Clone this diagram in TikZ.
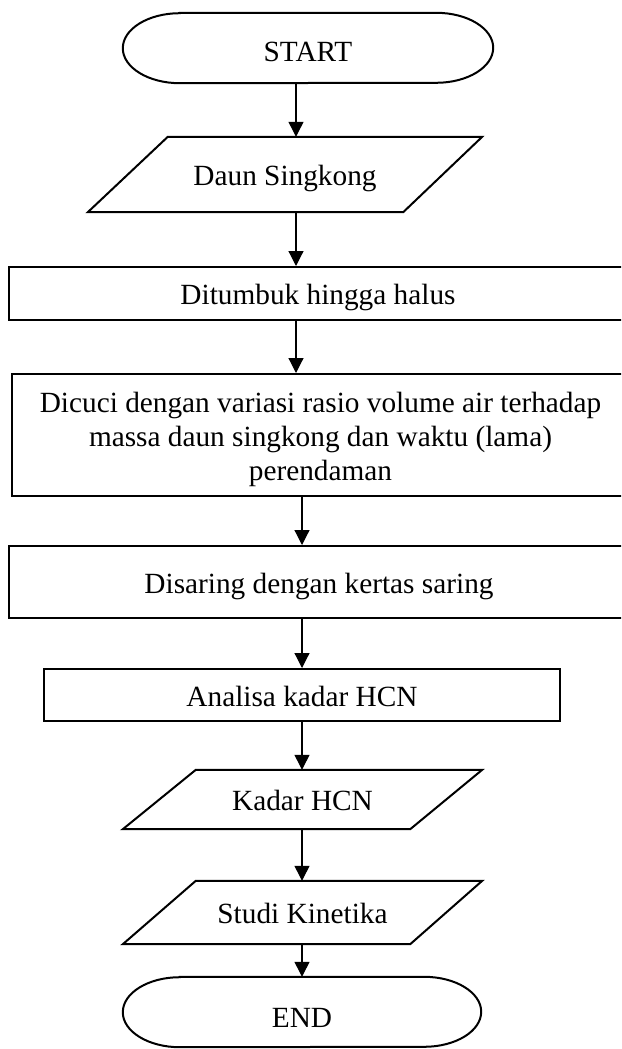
\documentclass[tikz,border=0pt]{standalone}
\usepackage{fontspec}
\setmainfont{Liberation Serif}
\usetikzlibrary{arrows.meta}
\begin{document}
\begin{tikzpicture}[x=1pt,y=1pt,
  font=\fontsize{29.3}{34}\selectfont,
  boxline/.style={line width=2pt},
  plainbox/.style={draw, boxline, inner sep=0pt},
  procbox/.style={plainbox, text height=22pt, text depth=0pt},
  iobox/.style={inner sep=0pt, text height=22pt, text depth=0pt},
  termbox/.style={inner sep=0pt, text height=28pt, text depth=0pt},
  flow/.style={line width=1.2pt, -{Triangle[width=15pt,length=15pt]}},
]
\useasboundingbox (0,0) rectangle (621,-1049);
\clip (0,0) rectangle (621,-1049);

% terminals and boxes
\node[termbox, minimum width=370pt, minimum height=70pt] (start) at (308,-48) {START};
\node[iobox, minimum width=394pt, minimum height=75pt] (daun) at (285,-174.5) {Daun Singkong};
\node[procbox, minimum width=618pt, minimum height=53pt] (dit) at (318,-293.5) {Ditumbuk hingga halus};
\node[plainbox, align=center, minimum width=617pt, minimum height=122pt] (dic) at (320.5,-435)
  {\rule{0pt}{30pt}Dicuci dengan variasi rasio volume air terhadap\\massa daun singkong dan waktu (lama)\\perendaman};
\node[procbox, minimum width=620pt, minimum height=72pt] (dis) at (319,-582) {Disaring dengan kertas saring};
\node[procbox, minimum width=516pt, minimum height=52pt] (ana) at (302,-695) {Analisa kadar HCN};
\node[iobox, minimum width=359pt, minimum height=59pt] (kad) at (302.5,-799.5) {Kadar HCN};
\node[iobox, minimum width=359pt, minimum height=63pt] (stu) at (302.5,-912.5) {Studi Kinetika};
\node[termbox, text height=30pt, minimum width=358pt, minimum height=70pt] (end) at (302,-1012) {END};

% terminal outlines
\draw[boxline] ([xshift=57pt]start.north west) -- ([xshift=-57pt]start.north east)
  arc[start angle=90,end angle=-90,x radius=57pt,y radius=35pt]
  -- ([xshift=57pt]start.south west)
  arc[start angle=270,end angle=90,x radius=57pt,y radius=35pt] -- cycle;
\draw[boxline] ([xshift=57pt]end.north west) -- ([xshift=-57pt]end.north east)
  arc[start angle=90,end angle=-90,x radius=57pt,y radius=35pt]
  -- ([xshift=57pt]end.south west)
  arc[start angle=270,end angle=90,x radius=57pt,y radius=35pt] -- cycle;

% parallelogram outlines
\draw[boxline] ([xshift=80pt]daun.north west) -- (daun.north east)
  -- ([xshift=-79pt]daun.south east) -- (daun.south west) -- cycle;
\draw[boxline] ([xshift=73pt]kad.north west) -- (kad.north east)
  -- ([xshift=-72pt]kad.south east) -- (kad.south west) -- cycle;
\draw[boxline] ([xshift=73pt]stu.north west) -- (stu.north east)
  -- ([xshift=-72pt]stu.south east) -- (stu.south west) -- cycle;

% connectors
\coordinate (axU) at (296,0);
\coordinate (axL) at (302,0);
\draw[flow] (start.south -| axU) -- (daun.north -| axU);
\draw[flow] (daun.south -| axU) -- (dit.north -| axU);
\draw[flow] (dit.south -| axU) -- (dic.north -| axU);
\draw[flow] (dic.south -| axL) -- (dis.north -| axL);
\draw[flow] (dis.south -| axL) -- (ana.north -| axL);
\draw[flow] (ana.south -| axL) -- (kad.north -| axL);
\draw[flow] (kad.south -| axL) -- (stu.north -| axL);
\draw[flow] (stu.south -| axL) -- (end.north -| axL);
\end{tikzpicture}
\end{document}
